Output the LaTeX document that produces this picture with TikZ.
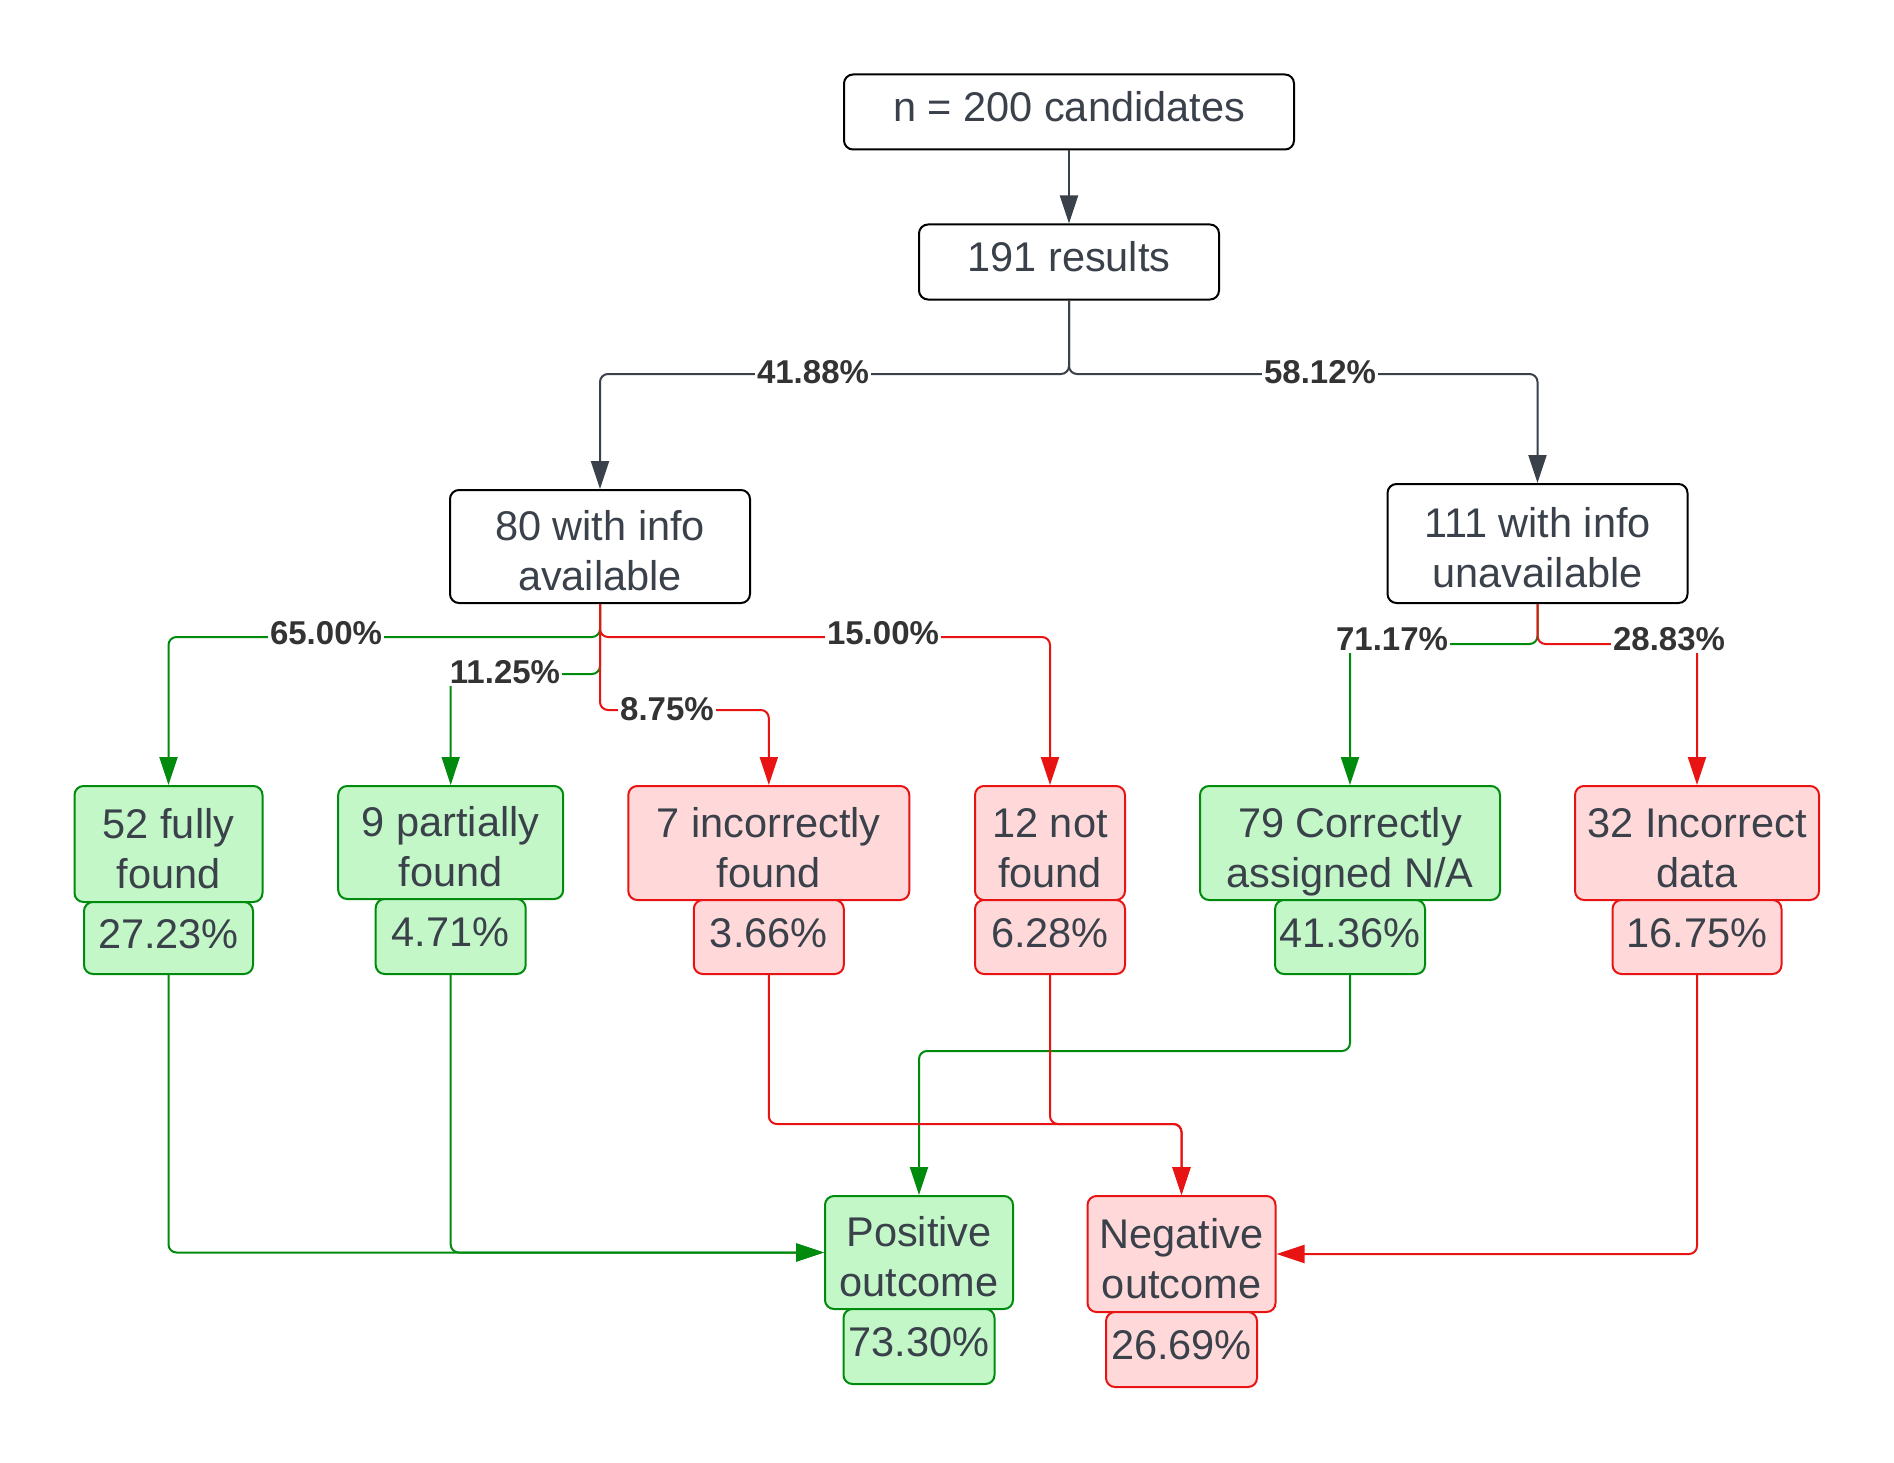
\documentclass[tikz,border=0pt]{standalone}
\usepackage{fontspec}
\setmainfont{Liberation Sans}
\usetikzlibrary{arrows.meta}

\definecolor{txtgray}{HTML}{3A414A}
\definecolor{okline}{HTML}{008A0E}
\definecolor{okfill}{HTML}{C3F7C8}
\definecolor{badline}{HTML}{E81313}
\definecolor{badfill}{HTML}{FFD9D9}

\tikzset{
    box/.style={draw=black, line width=2pt, rounded corners=9pt, align=center,
        text=txtgray, inner sep=0pt, text height=31pt, text depth=11pt,
        font=\fontsize{41.5}{50}\selectfont},
    twolines/.style={text height=88pt, text depth=0pt},
    okbox/.style={box, draw=okline, fill=okfill},
    badbox/.style={box, draw=badline, fill=badfill},
    pct/.style={fill=white, text=black!80, inner sep=2pt,
        font=\fontsize{33}{38}\selectfont\bfseries},
    link/.style={line width=2pt, rounded corners=8pt},
    tip/.style={-{Triangle[length=28pt,width=18pt]}}
}

\begin{document}
\begin{tikzpicture}[x=1pt, y=-1pt]
        \useasboundingbox (0,0) rectangle (1894,1463);
        % Draw the top of the tree
        \node[box, minimum width=450pt, minimum height=75pt] (cand) at (1069,112) {n = 200 candidates};
        \node[box, minimum width=300pt, minimum height=75pt] (res) at (1069,262) {191 results};
        \node[box, twolines, minimum width=300pt, minimum height=113pt] (avail) at (600,546.5) {80 with info\\available};
        \node[box, twolines, minimum width=300pt, minimum height=119pt] (unavail) at (1537.5,543.5) {111 with info\\unavailable};
        % Draw the six result boxes with their shares
        \node[okbox, twolines, minimum width=188pt, minimum height=116pt] (full) at (168.5,844) {52 fully\\found};
        \node[okbox, minimum width=169pt, minimum height=72pt] (fullpct) at (168.5,938) {27.23\%};
        \node[okbox, twolines, minimum width=225pt, minimum height=113pt] (part) at (450.7,842.5) {9 partially\\found};
        \node[okbox, minimum width=150pt, minimum height=75pt] (partpct) at (450.7,936.5) {4.71\%};
        \node[badbox, twolines, minimum width=281pt, minimum height=114pt] (wrong) at (768.8,843) {7 incorrectly\\found};
        \node[badbox, minimum width=150pt, minimum height=74pt] (wrongpct) at (768.8,937) {3.66\%};
        \node[badbox, twolines, minimum width=150pt, minimum height=114pt] (nf) at (1050,843) {12 not\\found};
        \node[badbox, minimum width=150pt, minimum height=74pt] (nfpct) at (1050,937) {6.28\%};
        \node[okbox, twolines, minimum width=300pt, minimum height=114pt] (corr) at (1350,843) {79 Correctly\\assigned N/A};
        \node[okbox, minimum width=150pt, minimum height=74pt] (corrpct) at (1350,937) {41.36\%};
        \node[badbox, twolines, minimum width=244pt, minimum height=114pt] (data) at (1697,843) {32 Incorrect\\data};
        \node[badbox, minimum width=169pt, minimum height=74pt] (datapct) at (1697,937) {16.75\%};
        % Draw the two outcomes
        \node[okbox, twolines, minimum width=188pt, minimum height=113pt] (pos) at (919,1252.5) {Positive\\outcome};
        \node[okbox, minimum width=151pt, minimum height=75pt] (pospct) at (919,1346.5) {73.30\%};
        \node[badbox, twolines, minimum width=188pt, minimum height=116pt] (neg) at (1181.5,1254) {Negative\\outcome};
        \node[badbox, minimum width=151pt, minimum height=75pt] (negpct) at (1181.5,1349.5) {26.69\%};
        % Connect the top boxes
            \coordinate (split) at (1069,374);
            \draw[link, tip, draw=txtgray] (cand) -- (res);
            \draw[link, tip, draw=txtgray] (res.south) -- (split) -| (avail.north);
            \draw[link, tip, draw=txtgray] (res.south) -- (split) -| (unavail.north);
        % Split the available ones
            \draw[link, tip, draw=okline] (avail.south) -- ++(0,33) -| (full.north);
            \draw[link, tip, draw=okline] (avail.south) -- ++(0,70) -| (part.north);
            \draw[link, tip, draw=badline] (avail.south) -- ++(0,106) -| (wrong.north);
            \draw[link, tip, draw=badline] (avail.south) -- ++(0,33) -| (nf.north);
        % Split the unavailable ones
            \draw[link, tip, draw=okline] (unavail.south) -- ++(0,40) -| (corr.north);
            \draw[link, tip, draw=badline] (unavail.south) -- ++(0,40) -| (data.north);
        % Lead every result to its outcome
            \draw[link, tip, draw=okline] (fullpct.south) |- (pos.west);
            \draw[link, tip, draw=okline] (partpct.south) |- (pos.west);
            \draw[link, tip, draw=okline] (corrpct.south) -- ++(0,76) -| (pos.north);
            \draw[link, tip, draw=badline] (wrongpct.south) -- ++(0,149) -| (neg.north);
            \draw[link, tip, draw=badline] (nfpct.south) -- ++(0,149) -| (neg.north);
            \draw[link, tip, draw=badline] (datapct.south) |- (neg.east);
        % Add the share labels on the lines
        \node[pct] (l1) at (813,372) {41.88\%};
        \node[pct] (l2) at (1320,372) {58.12\%};
        \node[pct] (l3) at (326,633) {65.00\%};
        \node[pct] (l4) at (505,672) {11.25\%};
        \node[pct] (l5) at (667,709) {8.75\%};
        \node[pct] (l6) at (883,633) {15.00\%};
        \node[pct] (l7) at (1392,639) {71.17\%};
        \node[pct] (l8) at (1669,639) {28.83\%};
    \end{tikzpicture}
\end{document}
